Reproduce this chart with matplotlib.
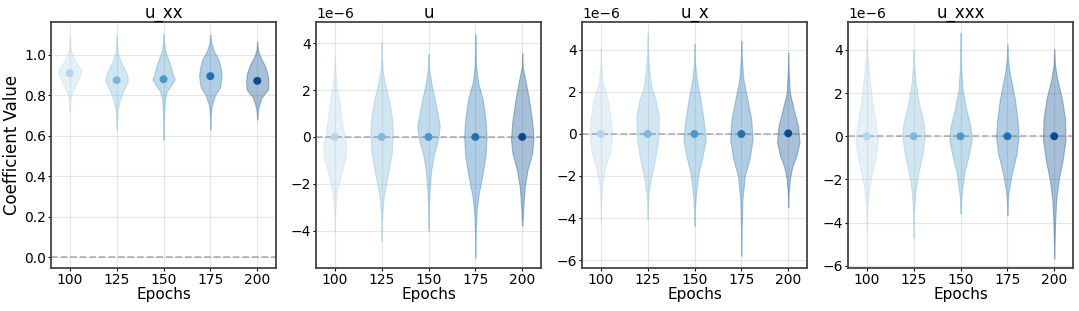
"""
Violin plots of discovered coefficient values per training length.
"""

import numpy as np
import matplotlib
matplotlib.use('Agg')
import matplotlib.pyplot as plt

# -----------------------------------------------------
# Data

epochs = [100, 125, 150, 175, 200]
terms = ['u_xx', 'u', 'u_x', 'u_xxx']
scale = [1.0, 1e-6, 1e-6, 1e-6]

# mean markers per term
means_u_xx = [0.91, 0.875, 0.88, 0.895, 0.872]
means_u = [0.0, 0.0, 0.0, 0.0, 0.0]
means_u_x = [0.0, 0.0, 0.0, 0.0, 0.03]
means_u_xxx = [0.0, 0.0, 0.0, 0.0, 0.0]

# violin outlines: y levels and relative density for each epoch
coords_u_xx = [
    [0.72, 0.78, 0.80, 0.84, 0.88, 0.91, 0.93, 0.96, 0.99, 1.02, 1.06, 1.10],
    [0.63, 0.68, 0.73, 0.78, 0.83, 0.87, 0.90, 0.93, 0.97, 1.01, 1.05, 1.095],
    [0.58, 0.65, 0.72, 0.78, 0.82, 0.86, 0.88, 0.90, 0.94, 0.98, 1.02, 1.06, 1.105],
    [0.63, 0.70, 0.75, 0.80, 0.84, 0.87, 0.90, 0.94, 0.98, 1.02, 1.06, 1.10],
    [0.68, 0.72, 0.75, 0.79, 0.83, 0.87, 0.91, 0.95, 1.00, 1.03, 1.065],
]
dens_u_xx = [
    [0.01, 0.08, 0.15, 0.45, 0.8, 1.0, 0.98, 0.6, 0.3, 0.1, 0.04, 0.01],
    [0.01, 0.04, 0.1, 0.3, 0.65, 1.0, 0.95, 0.7, 0.35, 0.1, 0.04, 0.01],
    [0.01, 0.02, 0.05, 0.12, 0.3, 0.8, 1.0, 0.85, 0.65, 0.4, 0.15, 0.04, 0.01],
    [0.01, 0.03, 0.12, 0.4, 0.85, 0.95, 1.0, 0.9, 0.7, 0.3, 0.08, 0.01],
    [0.01, 0.05, 0.15, 0.4, 0.95, 1.0, 0.9, 0.65, 0.2, 0.05, 0.01],
]

coords_u = [
    [-4.1, -3.4, -2.9, -2.3, -1.6, -0.9, -0.3, 0.3, 1.0, 1.6, 2.1, 2.8, 3.5],
    [-4.45, -3.8, -3.2, -2.5, -1.5, -0.7, 0.2, 0.9, 1.6, 2.3, 2.8, 3.4, 4.05],
    [-4.0, -3.2, -2.4, -1.5, -0.8, -0.1, 0.45, 1.0, 1.6, 2.3, 2.9, 3.55],
    [-5.15, -4.2, -3.2, -2.5, -1.7, -0.8, 0.0, 0.75, 1.6, 2.3, 3.0, 3.7, 4.4],
    [-3.8, -2.95, -2.1, -1.4, -0.7, -0.1, 0.6, 1.6, 2.45, 3.0, 3.6],
]
dens_u = [
    [0.01, 0.03, 0.08, 0.2, 0.55, 0.95, 1.0, 0.75, 0.55, 0.4, 0.2, 0.05, 0.01],
    [0.01, 0.02, 0.08, 0.2, 0.6, 0.9, 1.0, 0.9, 0.65, 0.3, 0.1, 0.03, 0.01],
    [0.01, 0.02, 0.08, 0.22, 0.45, 0.85, 1.0, 0.8, 0.55, 0.25, 0.05, 0.01],
    [0.01, 0.02, 0.1, 0.27, 0.6, 0.9, 1.0, 0.9, 0.65, 0.25, 0.06, 0.03, 0.01],
    [0.01, 0.1, 0.23, 0.47, 0.87, 1.0, 0.9, 0.6, 0.27, 0.04, 0.01],
]

coords_u_x = [
    [-4.15, -3.3, -2.5, -1.7, -0.9, -0.1, 0.7, 1.6, 2.4, 3.2, 4.15],
    [-4.05, -3.4, -2.8, -2.0, -1.2, -0.25, 0.85, 1.6, 2.25, 3.2, 4.0, 4.8],
    [-4.4, -3.6, -2.8, -1.85, -1.05, -0.25, 0.7, 1.6, 2.6, 3.4, 4.3],
    [-5.8, -4.6, -3.1, -2.0, -1.2, -0.25, 0.7, 1.6, 2.6, 3.5, 4.45],
    [-3.5, -2.8, -2.15, -1.55, -1.05, -0.4, 0.35, 1.15, 1.95, 2.9, 3.88],
]
dens_u_x = [
    [0.01, 0.02, 0.1, 0.35, 0.8, 1.0, 0.9, 0.65, 0.2, 0.04, 0.01],
    [0.01, 0.02, 0.1, 0.33, 0.67, 0.95, 1.0, 0.73, 0.33, 0.13, 0.03, 0.01],
    [0.01, 0.03, 0.14, 0.36, 0.72, 1.0, 0.8, 0.54, 0.2, 0.04, 0.01],
    [0.01, 0.03, 0.1, 0.3, 0.72, 1.0, 0.88, 0.55, 0.18, 0.05, 0.01],
    [0.01, 0.04, 0.14, 0.36, 0.72, 1.0, 0.88, 0.5, 0.14, 0.04, 0.01],
]

coords_u_xxx = [
    [-4.35, -3.4, -2.6, -1.86, -0.93, -0.15, 0.62, 1.7, 2.95, 3.8, 4.57],
    [-4.7, -3.6, -2.5, -1.7, -0.78, 0.0, 0.62, 1.55, 2.5, 3.3, 4.03],
    [-3.57, -3.0, -2.5, -1.7, -0.93, -0.15, 0.47, 1.25, 2.2, 3.2, 4.0, 4.8],
    [-3.65, -3.0, -2.5, -1.7, -0.78, 0.0, 0.78, 1.7, 2.95, 3.6, 4.26],
    [-5.66, -4.2, -2.95, -2.0, -1.1, -0.15, 0.78, 1.7, 2.63, 3.3, 4.03],
]
dens_u_xxx = [
    [0.01, 0.03, 0.17, 0.4, 0.8, 1.0, 0.8, 0.47, 0.2, 0.05, 0.01],
    [0.01, 0.03, 0.17, 0.43, 0.8, 1.0, 0.9, 0.47, 0.17, 0.05, 0.01],
    [0.01, 0.03, 0.13, 0.33, 0.7, 1.0, 0.88, 0.5, 0.17, 0.05, 0.02, 0.01],
    [0.01, 0.04, 0.13, 0.4, 0.83, 1.0, 0.9, 0.67, 0.2, 0.05, 0.01],
    [0.01, 0.06, 0.17, 0.4, 0.75, 1.0, 0.96, 0.7, 0.27, 0.06, 0.01],
]

all_means = [means_u_xx, means_u, means_u_x, means_u_xxx]
all_coords = [coords_u_xx, coords_u, coords_u_x, coords_u_xxx]
all_dens = [dens_u_xx, dens_u, dens_u_x, dens_u_xxx]

# -----------------------------------------------------
# Plot

colors = plt.cm.Blues(np.linspace(0.3, 0.9, len(epochs)))
ylims = [(-0.054, 1.163), (-5.6e-6, 4.91e-6), (-6.38e-6, 5.33e-6), (-6.1e-6, 5.29e-6)]
lefts = [51, 316, 582, 848]

fig = plt.figure(figsize=(10.79, 3.11), dpi=100)

for k, term in enumerate(terms):
    ax = fig.add_axes([lefts[k] / 1079, 43 / 311, 225 / 1079, 246 / 311])
    s = scale[k]

    vpstats = []
    for c, d, m in zip(all_coords[k], all_dens[k], all_means[k]):
        c = np.array(c) * s
        vpstats.append({'coords': c, 'vals': np.array(d), 'mean': m * s,
                        'median': m * s, 'min': c.min(), 'max': c.max()})

    parts = ax.violin(vpstats, positions=epochs, widths=12,
                      showmeans=False, showextrema=False, showmedians=False)
    for body, col in zip(parts['bodies'], colors):
        body.set_facecolor(col)
        body.set_edgecolor(col)
        body.set_linewidth(0.8)
        body.set_alpha(0.35)

    ax.scatter(epochs, np.array(all_means[k]) * s, c=colors, s=22, zorder=3)
    ax.axhline(0, color='gray', linestyle='--', linewidth=1.3, alpha=0.55)

    ax.set_xlim(90, 210)
    ax.set_ylim(*ylims[k])
    ax.set_xticks(epochs)
    ax.grid(True, alpha=0.3)
    ax.set_axisbelow(True)
    ax.set_title(term, fontsize=12, pad=1)
    ax.set_xlabel('Epochs', fontsize=11, labelpad=0)
    if k == 0:
        ax.set_ylabel('Coefficient Value', fontsize=12, labelpad=2)
    ax.tick_params(labelsize=10, length=2, pad=1.5)
    ax.yaxis.get_offset_text().set_fontsize(10)
    for sp in ax.spines.values():
        sp.set_color('#444444')
        sp.set_linewidth(1.3)

fig.savefig('out.png', dpi=100)
